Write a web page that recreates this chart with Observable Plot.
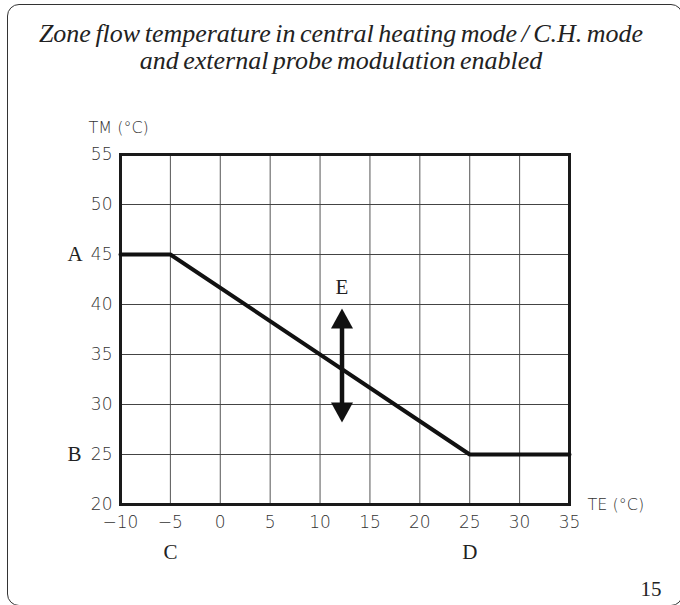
<!DOCTYPE html>
<html>
<head>
<meta charset="utf-8">
<script src="https://cdn.jsdelivr.net/npm/d3@7"></script>
<script src="https://cdn.jsdelivr.net/npm/@observablehq/plot@0.6"></script>
<style>
  html, body { margin: 0; padding: 0; background: #fff; }
  #wrap { position: relative; width: 680px; height: 605px; overflow: hidden; }
  #border { position: absolute; left: 7px; top: 4px; width: 676px; height: 602px; box-sizing: border-box;
            border: 1.5px solid #333; border-radius: 12px; }
  #chart { position: absolute; left: 0; top: 0; }
</style>
</head>
<body>
<div id="wrap"><div id="border"></div><div id="chart"></div></div>
<script>
const titleLines = ["Zone flow temperature in central heating mode / C.H. mode", "and external probe modulation enabled"];
const xTicks = [-10, -5, 0, 5, 10, 15, 20, 25, 30, 35];
const yTicks = [20, 25, 30, 35, 40, 45, 50, 55];
const curveTE = [-10, -5, 25, 35];
const curveTM = [45, 45, 25, 25];
const yLetters = [{label: "A", tm: 45}, {label: "B", tm: 25}];
const xLetters = [{label: "C", te: -5}, {label: "D", te: 25}];
const arrowE = {label: "E", te: 12.2, top: 39.6, bottom: 28.2, labelTM: 41.7};
const pageNumber = "15";

const curve = curveTE.map((te, i) => ({te, tm: curveTM[i]}));
const fmt = d => d < 0 ? "\u2212" + Math.abs(d) : String(d);

const upTri = { draw(ctx) { ctx.moveTo(0, 0); ctx.lineTo(-11, 20); ctx.lineTo(11, 20); ctx.closePath(); } };
const downTri = { draw(ctx) { ctx.moveTo(0, 0); ctx.lineTo(-11, -20); ctx.lineTo(11, -20); ctx.closePath(); } };

const sans = "'DejaVu Sans', sans-serif";
const serif = "'Liberation Serif', serif";
const mid = {lineAnchor: "middle"};

const plot = Plot.plot({
  width: 680, height: 605,
  marginLeft: 120, marginRight: 111, marginTop: 154, marginBottom: 101,
  x: {domain: [-10, 35], axis: null},
  y: {domain: [20, 55], axis: null},
  style: {background: "transparent", overflow: "visible"},
  marks: [
    Plot.ruleX(xTicks, {x: d => d, y1: 20, y2: 55, stroke: "#555", strokeWidth: 1}),
    Plot.ruleY(yTicks, {y: d => d, x1: -10, x2: 35, stroke: "#444", strokeWidth: 1}),
    Plot.frame({stroke: "#1a1a1a", strokeWidth: 3}),
    Plot.line(curve, {x: "te", y: "tm", stroke: "#111", strokeWidth: 4, strokeLinejoin: "miter"}),
    Plot.ruleX([arrowE], {x: "te", y1: d => d.bottom + 1, y2: d => d.top - 1, stroke: "#111", strokeWidth: 4.5}),
    Plot.dot([arrowE], {x: "te", y: "top", symbol: upTri, fill: "#111", stroke: "none", r: 5}),
    Plot.dot([arrowE], {x: "te", y: "bottom", symbol: downTri, fill: "#111", stroke: "none", r: 5}),
    Plot.text([arrowE], {x: "te", y: "labelTM", text: "label", fontFamily: serif, fontSize: 21, fill: "#222", ...mid}),
    // tick labels
    Plot.text(yTicks, {y: d => d, text: d => fmt(d), frameAnchor: "left", dx: -8, textAnchor: "end",
      fontFamily: sans, fontWeight: 200, fontSize: 17, fill: "#333", ...mid}),
    Plot.text(xTicks, {x: d => d, text: d => fmt(d), frameAnchor: "bottom", dy: 18,
      fontFamily: sans, fontWeight: 200, fontSize: 17, fill: "#333", ...mid}),
    // axis titles
    Plot.text(["TM (\u00b0C)"], {frameAnchor: "top-left", dx: -32, dy: -27, textAnchor: "start",
      fontFamily: sans, fontWeight: 200, fontSize: 16, fill: "#333", ...mid}),
    Plot.text(["TE (\u00b0C)"], {frameAnchor: "bottom-right", dx: 18, dy: 0, textAnchor: "start",
      fontFamily: sans, fontWeight: 200, fontSize: 16, fill: "#333", ...mid}),
    // letters
    Plot.text(yLetters, {y: "tm", text: "label", frameAnchor: "left", dx: -53,
      fontFamily: serif, fontSize: 21, fill: "#222", ...mid}),
    Plot.text(xLetters, {x: "te", text: "label", frameAnchor: "bottom", dy: 48,
      fontFamily: serif, fontSize: 21, fill: "#222", ...mid}),
    // title
    Plot.text([titleLines[0]], {text: d => d, frameAnchor: "top", dx: -4, dy: -121,
      fontFamily: serif, fontStyle: "italic", fontSize: 26, fill: "#222", ...mid}),
    Plot.text([titleLines[1]], {text: d => d, frameAnchor: "top", dx: -4, dy: -94,
      fontFamily: serif, fontStyle: "italic", fontSize: 26, fill: "#222", ...mid}),
    Plot.text([pageNumber], {frameAnchor: "bottom-right", dx: 92, dy: 85,
      fontFamily: serif, fontSize: 21, fill: "#222", ...mid})
  ]
});
plot.querySelectorAll("text").forEach(t => {
  if (titleLines.includes(t.textContent)) t.style.wordSpacing = "-2px";
});
document.getElementById("chart").appendChild(plot);
</script>
</body>
</html>
